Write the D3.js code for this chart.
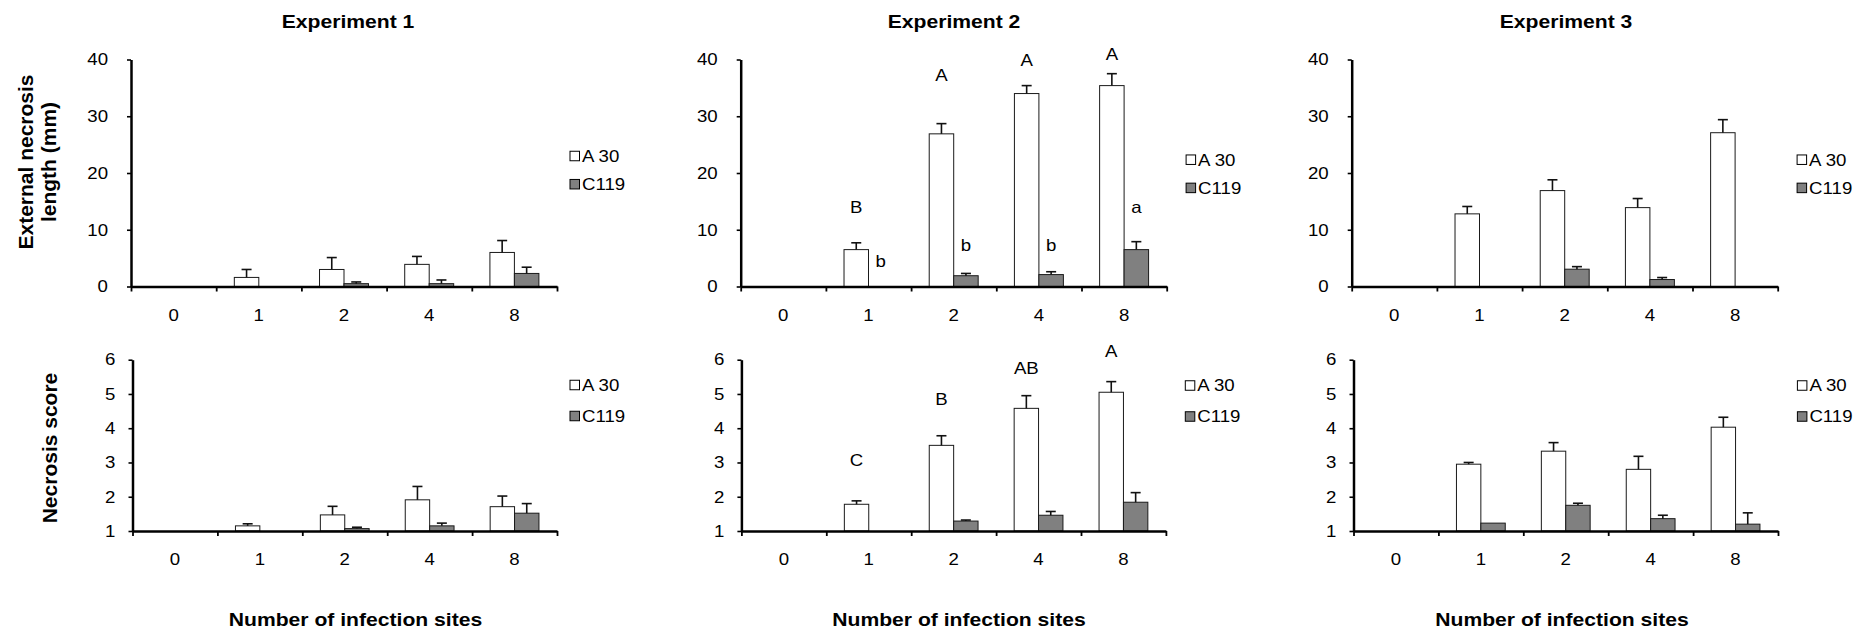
<!DOCTYPE html>
<html>
<head>
<meta charset="utf-8">
<script src="https://cdn.jsdelivr.net/npm/d3@7"></script>
<style>
  html, body { margin: 0; padding: 0; background: #fff; }
  svg { display: block; font-family: Arial, "Liberation Sans", Helvetica, sans-serif; }
</style>
</head>
<body>
<svg id="chart" width="1868" height="629"></svg>
<script>
// ---- data ---------------------------------------------------------------
const categories = ["0", "1", "2", "4", "8"];          // number of infection sites
const seriesNames = ["A 30", "C119"];
const experiments = ["Experiment 1", "Experiment 2", "Experiment 3"];

// External necrosis length (mm): mean and standard error
const lenA30_exp1    = [0, 1.6, 3.0, 3.9, 6.0];
const lenA30_exp1_se = [0, 1.4, 2.1, 1.4, 2.1];
const lenC119_exp1    = [0, 0, 0.5, 0.5, 2.3];
const lenC119_exp1_se = [0, 0, 0.3, 0.65, 1.1];

const lenA30_exp2    = [0, 6.5, 26.9, 34.0, 35.4];
const lenA30_exp2_se = [0, 1.2, 1.8, 1.4, 2.1];
const lenC119_exp2    = [0, 0, 1.9, 2.1, 6.5];
const lenC119_exp2_se = [0, 0, 0.4, 0.5, 1.4];

const lenA30_exp3    = [0, 12.8, 16.9, 13.9, 27.1];
const lenA30_exp3_se = [0, 1.3, 1.9, 1.6, 2.3];
const lenC119_exp3    = [0, 0, 3.05, 1.23, 0];
const lenC119_exp3_se = [0, 0, 0.45, 0.35, 0];

// Necrosis score: mean and standard error
const scoreA30_exp1    = [1, 1.15, 1.47, 1.91, 1.71];
const scoreA30_exp1_se = [0, 0.06, 0.25, 0.39, 0.31];
const scoreC119_exp1    = [1, 1, 1.07, 1.15, 1.52];
const scoreC119_exp1_se = [0, 0, 0.04, 0.08, 0.28];

const scoreA30_exp2    = [1, 1.78, 3.5, 4.58, 5.05];
const scoreA30_exp2_se = [0, 0.1, 0.28, 0.37, 0.31];
const scoreC119_exp2    = [1, 1, 1.29, 1.46, 1.84];
const scoreC119_exp2_se = [0, 0, 0.03, 0.11, 0.28];

const scoreA30_exp3    = [1, 2.95, 3.33, 2.8, 4.03];
const scoreA30_exp3_se = [0, 0.05, 0.25, 0.38, 0.29];
const scoreC119_exp3    = [1, 1.23, 1.75, 1.36, 1.2];
const scoreC119_exp3_se = [0, 0, 0.06, 0.1, 0.33];

// Significance letters (Experiment 2) and the value at which each sits
const lenLettersA30_exp2   = ["", "B", "A", "A", "A"];
const lenLetterAtA30_exp2  = [0, 12.9, 36.2, 38.9, 39.9];
const lenLettersC119_exp2  = ["", "b", "b", "b", "a"];
const lenLetterAtC119_exp2 = [0, 3.4, 6.3, 6.3, 12.9];
const scoreLettersA30_exp2  = ["", "C", "B", "AB", "A"];
const scoreLetterAtA30_exp2 = [0, 2.89, 4.68, 5.59, 6.07];

// Axis ticks
const lengthTicks = [0, 10, 20, 30, 40];
const scoreTicks = [1, 2, 3, 4, 5, 6];

const yTitleTop = ["External necrosis", "length (mm)"];
const yTitleBottom = "Necrosis score";
const xTitle = "Number of infection sites";

// ---- layout -------------------------------------------------------------
const colX0Top = [131, 740.7, 1351.7];
const colX0Bottom = [132.5, 741.4, 1353.5];
const plotWTop = 426, plotWBottom = 424.5;
const rowTop = { yTop: 59.5, yBase: 286.5, domain: [0, 40], ticks: lengthTicks, labelGap: 23, xLabelBase: 35 };
const rowBottom = { yTop: 359.7, yBase: 531, domain: [1, 6], ticks: scoreTicks, labelGap: 17, xLabelBase: 34 };
const titleX = [348, 954, 1566];
const xTitleX = [355.5, 959, 1562];
const legendDx = [13, 19.4, 19.4];
const legendTopY = [156, 159.7, 159.7];
const legendBottomY = [385, 385.5, 385.5];

const FILL = { "A 30": "#ffffff", "C119": "#808080" };
const FONT_TICK = 16.5, FONT_LEG = 16.5, FONT_LETTER = 16.5, FONT_TITLE = 18.7;
const SX = 1.13;   // horizontal widening of upright text

const svg = d3.select("#chart");

// widen an upright text element around its anchor point
function widen(sel, x, y) {
  sel.attr("x", 0).attr("y", 0).attr("transform", `translate(${x},${y}) scale(${SX},1)`);
}

const lenData = [
  [lenA30_exp1, lenA30_exp1_se, lenC119_exp1, lenC119_exp1_se],
  [lenA30_exp2, lenA30_exp2_se, lenC119_exp2, lenC119_exp2_se],
  [lenA30_exp3, lenA30_exp3_se, lenC119_exp3, lenC119_exp3_se]
];
const scoreData = [
  [scoreA30_exp1, scoreA30_exp1_se, scoreC119_exp1, scoreC119_exp1_se],
  [scoreA30_exp2, scoreA30_exp2_se, scoreC119_exp2, scoreC119_exp2_se],
  [scoreA30_exp3, scoreA30_exp3_se, scoreC119_exp3, scoreC119_exp3_se]
];

function toRows(arrs) {
  const [a, ase, c, cse] = arrs;
  return categories.map((cat, i) => ({
    cat,
    values: [
      { s: "A 30", v: a[i], se: ase[i] },
      { s: "C119", v: c[i], se: cse[i] }
    ]
  }));
}

function drawPanel(col, row, x0, w, arrs, legendY, legendGap, letters) {
  const g = svg.append("g");
  const x = d3.scaleBand().domain(categories).range([x0, x0 + w]).paddingInner(0).paddingOuter(0);
  const xs = d3.scaleBand().domain(seriesNames).range([0, x.bandwidth()]).paddingInner(0).paddingOuter(0.74);
  const y = d3.scaleLinear().domain(row.domain).range([row.yBase, row.yTop]);
  const base = row.domain[0];
  const rows = toRows(arrs);

  // bars
  const grp = g.selectAll("g.cat").data(rows).join("g")
    .attr("transform", d => `translate(${x(d.cat)},0)`);
  grp.selectAll("rect").data(d => d.values).join("rect")
    .attr("x", d => xs(d.s))
    .attr("y", d => y(d.v))
    .attr("width", xs.bandwidth())
    .attr("height", d => y(base) - y(d.v))
    .attr("fill", d => FILL[d.s])
    .attr("stroke", "#1a1a1a")
    .attr("stroke-width", 1);

  // upper error bars
  const eb = grp.selectAll("g.err").data(d => d.values.filter(v => v.se > 0)).join("g");
  eb.append("line")
    .attr("x1", d => xs(d.s) + xs.bandwidth() / 2)
    .attr("x2", d => xs(d.s) + xs.bandwidth() / 2)
    .attr("y1", d => y(d.v))
    .attr("y2", d => y(d.v + d.se))
    .attr("stroke", "#111").attr("stroke-width", 1.6);
  eb.append("line")
    .attr("x1", d => xs(d.s) + xs.bandwidth() / 2 - 5)
    .attr("x2", d => xs(d.s) + xs.bandwidth() / 2 + 5)
    .attr("y1", d => y(d.v + d.se))
    .attr("y2", d => y(d.v + d.se))
    .attr("stroke", "#111").attr("stroke-width", 1.6);

  // significance letters
  if (letters) {
    letters.forEach(L => {
      g.selectAll(null).data(categories.map((c, i) => ({ c, t: L.text[i], at: L.at[i] })).filter(d => d.t))
        .join("text")
        .attr("text-anchor", "middle")
        .attr("font-size", FONT_LETTER)
        .attr("fill", "#000")
        .text(d => d.t)
        .each(function (d) {
          widen(d3.select(this), x(d.c) + xs(L.series) + xs.bandwidth() / 2, y(d.at));
        });
    });
  }

  // y axis
  const yAxis = g.append("g").attr("transform", `translate(${x0},0)`)
    .call(d3.axisLeft(y).tickValues(row.ticks).tickFormat(d3.format("d"))
      .tickSize(4).tickSizeOuter(0).tickPadding(row.labelGap - 4));
  yAxis.attr("font-family", null).attr("font-size", null);
  yAxis.select(".domain").attr("stroke", "#000").attr("stroke-width", 2.5);
  yAxis.selectAll(".tick line").attr("stroke", "#000").attr("stroke-width", 1.6);
  yAxis.selectAll(".tick text").attr("font-size", FONT_TICK).attr("fill", "#000")
    .attr("transform", `translate(${-row.labelGap},0) scale(${SX},1)`).attr("x", 0);

  // x axis: ticks at category boundaries, labels centred on categories
  const xEdge = d3.scaleLinear().domain([0, categories.length]).range([x0, x0 + w]);
  const xAxisTicks = g.append("g").attr("transform", `translate(0,${row.yBase})`)
    .call(d3.axisBottom(xEdge).tickValues(d3.range(categories.length + 1))
      .tickFormat("").tickSize(5).tickSizeOuter(0));
  xAxisTicks.select(".domain").attr("stroke", "#000").attr("stroke-width", 2.5);
  xAxisTicks.selectAll(".tick line").attr("stroke", "#000").attr("stroke-width", 1.8);

  const xAxisLabels = g.append("g").attr("transform", `translate(0,${row.yBase})`)
    .call(d3.axisBottom(x).tickSize(0).tickPadding(row.xLabelBase - 0.71 * FONT_TICK));
  xAxisLabels.select(".domain").remove();
  xAxisLabels.attr("font-family", null).attr("font-size", null);
  xAxisLabels.selectAll(".tick text").attr("font-size", FONT_TICK).attr("fill", "#000")
    .attr("transform", `scale(${SX},1)`);

  // legend
  const lx = x0 + w + legendDx[col];
  const leg = g.append("g");
  seriesNames.forEach((s, i) => {
    const cy = legendY + i * legendGap;
    leg.append("rect")
      .attr("x", lx).attr("y", cy - 4.75).attr("width", 9.5).attr("height", 9.5)
      .attr("fill", FILL[s]).attr("stroke", "#000").attr("stroke-width", 1);
    leg.append("text")
      .attr("dy", "0.36em")
      .attr("font-size", FONT_LEG).attr("fill", "#000")
      .text(s)
      .call(widen, lx + 12, cy);
  });
}

experiments.forEach((name, col) => {
  // panel title
  svg.append("text")
    .attr("text-anchor", "middle")
    .attr("font-size", FONT_TITLE).attr("font-weight", "bold")
    .text(name)
    .call(widen, titleX[col], 28);

  const lettersTop = col === 1 ? [
    { series: "A 30", text: lenLettersA30_exp2, at: lenLetterAtA30_exp2 },
    { series: "C119", text: lenLettersC119_exp2, at: lenLetterAtC119_exp2 }
  ] : null;
  const lettersBottom = col === 1 ? [
    { series: "A 30", text: scoreLettersA30_exp2, at: scoreLetterAtA30_exp2 }
  ] : null;

  drawPanel(col, rowTop, colX0Top[col], plotWTop, lenData[col], legendTopY[col], 28.2, lettersTop);
  drawPanel(col, rowBottom, colX0Bottom[col], plotWBottom, scoreData[col], legendBottomY[col], 31, lettersBottom);

  // x-axis title
  svg.append("text")
    .attr("text-anchor", "middle")
    .attr("font-size", FONT_TITLE).attr("font-weight", "bold")
    .text(xTitle)
    .call(widen, xTitleX[col], 626);
});

// y-axis titles (left column only)
const yt = svg.append("text")
  .attr("transform", "translate(0,162) rotate(-90)")
  .attr("text-anchor", "middle")
  .attr("font-size", 21).attr("font-weight", "bold");
yt.append("tspan").attr("x", 0).attr("y", 32.5).text(yTitleTop[0]);
yt.append("tspan").attr("x", 0).attr("y", 56).text(yTitleTop[1]);

svg.append("text")
  .attr("transform", "translate(57,448) rotate(-90)")
  .attr("text-anchor", "middle")
  .attr("font-size", 21).attr("font-weight", "bold")
  .text(yTitleBottom);
</script>
</body>
</html>
